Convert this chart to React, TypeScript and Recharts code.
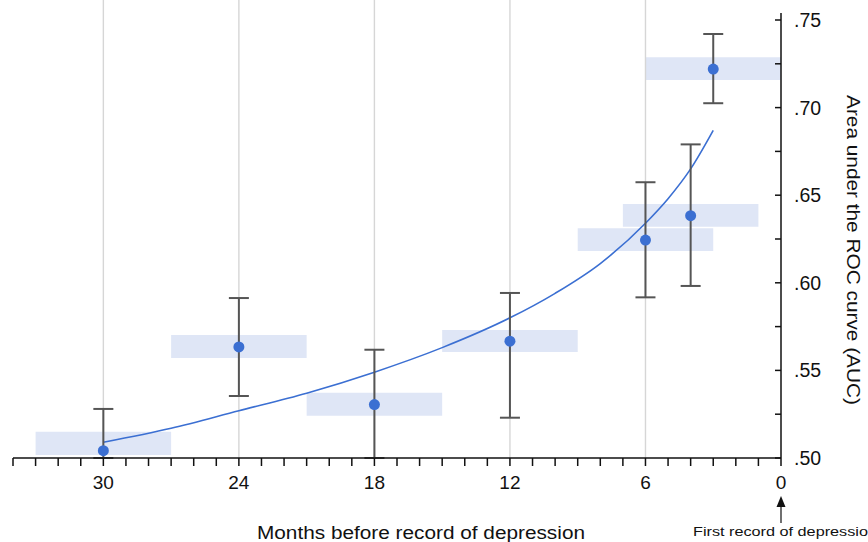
import React from "react"
import {
  ComposedChart,
  Line,
  Scatter,
  ErrorBar,
  XAxis,
  YAxis,
  ReferenceArea,
  ReferenceLine,
} from "recharts"

// months before first record of depression
const months = [30, 24, 18, 12, 6, 4, 3]
const auc = [0.5042, 0.5634, 0.5305, 0.5667, 0.6244, 0.6383, 0.722]
// lower ends of the 30 and 18 month bars run into the axis
const ciLow = [0.5, 0.5354, 0.5, 0.523, 0.5917, 0.5982, 0.7025]
const ciHigh = [0.528, 0.5913, 0.5618, 0.5942, 0.6574, 0.679, 0.742]
// shaded band for each point: months window and AUC band
const bandFrom = [33, 27, 21, 15, 9, 7, 6]
const bandTo = [27, 21, 15, 9, 3, 1, 0]
const bandLow = [0.5017, 0.5571, 0.5241, 0.5605, 0.6182, 0.632, 0.7158]
const bandHigh = [0.515, 0.5702, 0.5373, 0.5731, 0.6311, 0.645, 0.7287]

// fitted curve
const curveMonths = [30, 27, 24, 21, 18, 15, 12, 10, 8, 6, 5, 4, 3]
const curveAuc = [0.509, 0.517, 0.527, 0.537, 0.549, 0.563, 0.58, 0.594, 0.611, 0.634, 0.648, 0.665, 0.687]

const gridMonths = [30, 24, 18, 12, 6]
const xTicks = Array.from({ length: 35 }, (_, i) => i)
const yTicks = [0.5, 0.525, 0.55, 0.575, 0.6, 0.625, 0.65, 0.675, 0.7, 0.725, 0.75]

const points = months.map((m, i) => ({
  m,
  auc: auc[i],
  err: [auc[i] - ciLow[i], ciHigh[i] - auc[i]],
}))
const curve = curveMonths.map((m, i) => ({ m, fit: curveAuc[i] }))

const FONT = "'Liberation Sans', Arial, Helvetica, sans-serif"
const BLUE = "#3b6fd2"

function XTick(props: any) {
  const { x, y, payload } = props
  const v = payload.value
  return (
    <g>
      <line x1={x} x2={x} y1={y} y2={y + 8} stroke="#111" strokeWidth={1.5} />
      {v % 6 === 0 && (
        <text x={x} y={y + 31} textAnchor="middle" fontSize={19} fontFamily={FONT} fill="#111">
          {v}
        </text>
      )}
    </g>
  )
}

function YTick(props: any) {
  const { x, y, payload } = props
  const v = payload.value
  const major = Math.round(v * 1000) % 50 === 0
  return (
    <g>
      <line x1={x} x2={x - 6} y1={y} y2={y} stroke="#111" strokeWidth={1.5} />
      {major && (
        <text x={x + 13} y={y + 7} fontSize={19.5} fontFamily={FONT} fill="#111">
          {v.toFixed(2).slice(1)}
        </text>
      )}
    </g>
  )
}

export default function App() {
  return (
    <div style={{ position: "absolute", left: 0, top: 0, width: 868, height: 542, background: "#fff", overflow: "hidden" }}>
      <ComposedChart width={868} height={542} margin={{ top: 20, right: 0, bottom: 0, left: 13 }}>
        <XAxis
          type="number"
          dataKey="m"
          domain={[0, 34]}
          reversed
          ticks={xTicks}
          interval={0}
          tick={<XTick />}
          tickLine={false}
          tickSize={0}
          tickMargin={0}
          height={84}
          axisLine={{ stroke: "#111", strokeWidth: 1.5 }}
          label={{
            content: (p: any) => (
              <text
                x={p.viewBox.x + 408}
                y={p.viewBox.y + 81}
                textAnchor="middle"
                fontSize={18}
                textLength={328}
                lengthAdjust="spacingAndGlyphs"
                fontFamily={FONT}
                fill="#111"
              >
                Months before record of depression
              </text>
            ),
          }}
        />
        <YAxis
          type="number"
          orientation="right"
          domain={[0.5, 0.75]}
          allowDataOverflow
          ticks={yTicks}
          interval={0}
          tick={<YTick />}
          tickLine={false}
          tickSize={0}
          tickMargin={0}
          width={87}
          axisLine={false}
          label={{
            content: (p: any) => {
              const cx = p.viewBox.x + 66
              const cy = p.viewBox.y + p.viewBox.height / 2 + 11
              return (
                <text
                  x={cx}
                  y={cy}
                  transform={`rotate(90 ${cx} ${cy})`}
                  textAnchor="middle"
                  fontSize={18.5}
                  textLength={310}
                  lengthAdjust="spacingAndGlyphs"
                  fontFamily={FONT}
                  fill="#111"
                >
                  Area under the ROC curve (AUC)
                </text>
              )
            },
          }}
        />
        {gridMonths.map((m) => (
          <ReferenceLine
            key={m}
            segment={[
              { x: m, y: 0.5 },
              { x: m, y: 0.7614 },
            ]}
            stroke="#d6d6d6"
            strokeWidth={1.4}
            ifOverflow="visible"
          />
        ))}
        <ReferenceLine
          segment={[
            { x: 0, y: 0.5 },
            { x: 0, y: 0.754 },
          ]}
          stroke="#111"
          strokeWidth={1.5}
          ifOverflow="visible"
        />
        {months.map((m, i) => (
          <ReferenceArea
            key={m}
            x1={bandFrom[i]}
            x2={bandTo[i]}
            y1={bandLow[i]}
            y2={bandHigh[i]}
            fill="#dfe6f6"
            fillOpacity={1}
            stroke="none"
            ifOverflow="visible"
          />
        ))}
        <Line
          data={curve}
          dataKey="fit"
          type="monotone"
          stroke={BLUE}
          strokeWidth={1.6}
          dot={false}
          isAnimationActive={false}
        />
        <Scatter data={points} dataKey="auc" fill={BLUE} isAnimationActive={false} shape={(p: any) => <circle cx={p.cx} cy={p.cy} r={5.5} fill={BLUE} />}>
          <ErrorBar dataKey="err" direction="y" width={10} stroke="#555" strokeWidth={2} />
        </Scatter>
      </ComposedChart>
      <svg width={868} height={542} style={{ position: "absolute", left: 0, top: 0, pointerEvents: "none" }}>
        <line x1={781} x2={781} y1={506} y2={523} stroke="#111" strokeWidth={1.2} />
        <polygon points="781,496 776.5,507 785.5,507" fill="#111" />
        <text
          x={693}
          y={536}
          fontSize={13}
          textLength={184}
          lengthAdjust="spacingAndGlyphs"
          fontFamily={FONT}
          fill="#111"
        >
          First record of depression
        </text>
      </svg>
    </div>
  )
}
